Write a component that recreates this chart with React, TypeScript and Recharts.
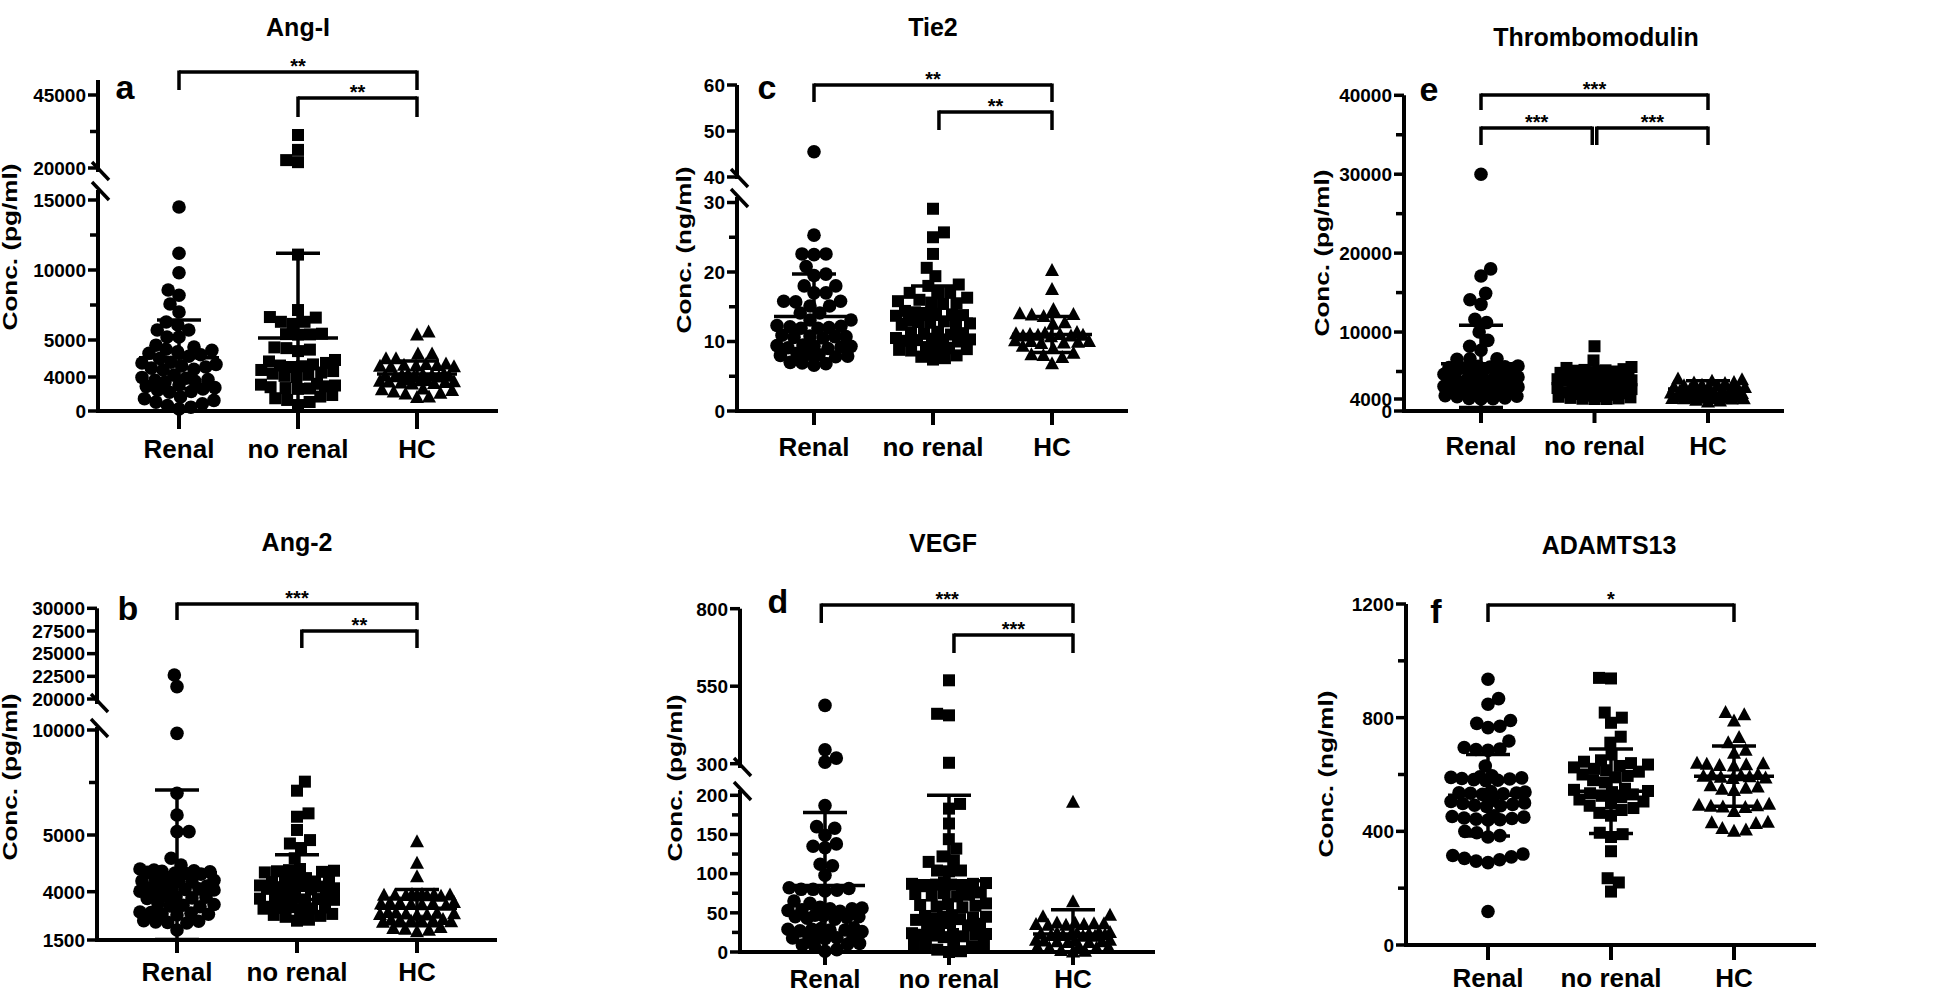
import React from 'react';
import { ScatterChart, Scatter, XAxis, YAxis, ReferenceLine } from 'recharts';

const GROUPS = ['Renal', 'no renal', 'HC'];

// ---------- a: Ang-I (pg/ml) ----------
const angIRenal = [14500, 11200, 9800, 8570, 8200, 7570, 7000, 6290, 6070, 5710, 5710, 5210, 5210, 4860, 4810,
  4750, 4720, 4680, 4640, 4600, 4560, 4500,
  4400, 4380, 4340, 4300, 4270, 4240, 4210, 4190,
  4050, 3950, 3850, 3700, 3600, 3500, 3400,
  3050, 2900, 2750, 2600, 2450, 2300, 2200,
  1650, 1450, 1250, 1050, 850, 650, 450, 250];
const angINoRenal = [31300, 26200, 22700, 22000, 11100, 7140,
  6640, 6600, 6300, 6300, 6150, 5450, 5420, 5400, 5380,
  4800, 4780, 4740, 4700, 4460, 4420, 4380, 4340, 4310, 4290, 4270,
  4190, 4160, 4120, 4090, 4060, 4030, 4000,
  3200, 3100, 3000, 2900, 2800, 2700, 2650, 2600,
  1880, 1700, 1500, 1300, 1060, 700];
const angIHC = [5570, 5350, 4620, 4620, 4490, 4490,
  4350, 4340, 4320, 4310, 4300, 4290, 4280, 4270,
  4080, 4070, 4060, 4050, 4040, 4030, 4020, 4010, 4005, 4000,
  3650, 3600, 3550, 3500, 3450, 3400, 3350, 3300, 3250, 3180,
  2600, 2500, 2400, 2250, 2100, 2000, 1650, 1600];
const angIMean = [4520, 5140, 4080];
const angISD = [1910, 6060, 350];
const angITicks = [0, 4000, 5000, 7500, 10000, 12500, 15000, 20000, 32500, 45000];
const angITickLabels = ['0', '4000', '5000', '', '10000', '', '15000', '20000', '', '45000'];
const angISig = ['**', '**'];

// ---------- c: Tie2 (ng/ml) ----------
const tie2Renal = [45.5, 25.3, 22.6, 22.6, 22.5, 20.8, 19.7, 19.5, 18.0, 18.0, 17.0, 17.0, 15.8, 15.8, 15.7, 15.1, 15.1,
  14.1, 14.1, 13.1, 13.1, 12.3, 12.2, 12.1, 12.0, 11.9, 11.9,
  10.9, 10.8, 10.7, 10.7, 10.6, 10.5, 9.5, 9.4, 9.3, 9.3, 9.2, 9.1, 9.0,
  8.3, 8.2, 8.1, 8.0, 7.9, 7.8, 7.0, 6.9, 6.8, 6.6];
const tie2NoRenal = [29.1, 25.7, 25.0, 22.6, 20.6, 19.4, 18.2, 18.0, 17.0, 17.0, 17.0,
  16.3, 16.0, 15.8, 15.6, 15.5, 15.4, 14.4, 14.2, 14.1, 14.0, 13.9, 13.8, 13.7,
  13.0, 12.9, 12.8, 12.7, 12.6, 12.5, 12.4, 11.4, 11.3, 11.2, 11.1, 11.0,
  10.5, 10.4, 10.3, 10.3, 10.2, 10.1, 10.0, 9.2, 9.1, 9.0, 8.9, 8.8, 8.7,
  8.0, 7.8, 7.6, 7.4];
const tie2HC = [20.2, 17.5, 14.6, 14.0, 13.9, 13.8, 13.6, 12.7, 12.5,
  11.3, 11.2, 11.1, 11.0, 11.0, 10.9, 10.9, 10.8, 10.8, 10.7,
  10.1, 10.0, 10.0, 9.9, 9.8, 9.7, 9.3, 9.0, 8.3, 8.1, 8.0, 7.7, 6.8];
const tie2Mean = [13.6, 13.2, 11.0];
const tie2SD = [6.1, 4.8, 2.6];
const tie2Ticks = [0, 5, 10, 15, 20, 25, 30, 40, 50, 60];
const tie2TickLabels = ['0', '', '10', '', '20', '', '30', '40', '50', '60'];
const tie2Sig = ['**', '**'];

// ---------- e: Thrombomodulin (pg/ml) ----------
const tmRenal = [30000, 18000, 17100, 14900, 14100, 13500, 11600, 11200, 10000, 8950, 8200, 7700, 6600, 6600, 6550,
  5700, 5650, 5600, 5550, 5500, 5450, 5200, 5150, 5100, 5050, 5000, 4900, 4850, 4800,
  4750, 4720, 4700, 4680, 4660, 4640, 4620, 4600,
  4480, 4460, 4440, 4420, 4400, 4380, 4360, 4340,
  4250, 4200, 4150, 4120, 4100, 4080, 4040, 4020, 4010, 4000];
const tmNoRenal = [8200, 6400, 5570, 5450, 5300,
  5200, 5150, 5100, 5050, 5000, 4980, 4950,
  4900, 4880, 4860, 4840, 4820, 4800, 4780, 4760,
  4740, 4720, 4700, 4680, 4660, 4640, 4620, 4600,
  4560, 4520, 4480, 4440, 4400, 4360, 4320, 4300,
  4270, 4240, 4210, 4180, 4150, 4120, 4100,
  4080, 4060, 4040, 4020, 4010, 4000, 4000];
const tmHC = [4730, 4700, 4650, 4600, 4580, 4560,
  4500, 4480, 4460, 4440, 4420, 4400, 4380, 4360, 4350, 4340,
  4300, 4280, 4260, 4240, 4220, 4200, 4180, 4160,
  4140, 4120, 4100, 4090, 4080, 4070, 4060, 4050,
  4040, 4030, 4020, 4015, 4010, 4005, 4000, 3600, 3300, 3000];
const tmMean = [5990, 4680, 4360];
const tmSD = [4860, 500, 300];
const tmTicks = [0, 4000, 5000, 10000, 15000, 20000, 25000, 30000, 35000, 40000];
const tmTickLabels = ['0', '4000', '', '10000', '', '20000', '', '30000', '', '40000'];
const tmSig = ['***', '***', '***'];

// ---------- b: Ang-2 (pg/ml) ----------
const ang2Renal = [22650, 21360, 9840, 6990, 5950, 5160, 5160, 4590, 4470, 4400,
  4380, 4370, 4360, 4350, 4340, 4330, 4320, 4310,
  4240, 4220, 4200, 4190, 4180, 4170,
  4100, 4080, 4070, 4060, 4050, 4040, 4030, 4010,
  3800, 3770, 3740, 3710, 3680, 3650,
  3380, 3340, 3300, 3260, 3220,
  2950, 2920, 2890, 2860, 2830, 2800,
  2500, 2470, 2440, 2410, 2380, 2020];
const ang2NoRenal = [7540, 7110, 6030, 5870, 5240, 4910, 4850, 4770, 4590,
  4400, 4380, 4370, 4360, 4350, 4340,
  4240, 4220, 4200, 4190, 4180, 4170,
  4110, 4100, 4090, 4080, 4070, 4060, 4050, 4040,
  3720, 3700, 3680, 3660, 3640, 3620, 3600, 3580,
  3220, 3200, 3180, 3160, 3140, 3120, 3100,
  2850, 2800, 2750, 2700, 2550, 2500];
const ang2HC = [4880, 4500, 4265,
  3860, 3850, 3840, 3830, 3820, 3810, 3800, 3790, 3780, 3770,
  3440, 3420, 3400, 3380, 3360, 3340, 3320, 3300,
  2920, 2900, 2880, 2860, 2840, 2820, 2800, 2780,
  2560, 2540, 2520, 2500, 2480, 2460, 2440, 2420,
  2150, 2100, 2050, 2000, 1930];
const ang2Mean = [4335, 4120, 3140];
const ang2SD = [2805, 530, 900];
const ang2Ticks = [1500, 4000, 5000, 7500, 10000, 20000, 22500, 25000, 27500, 30000];
const ang2TickLabels = ['1500', '4000', '5000', '', '10000', '20000', '22500', '25000', '27500', '30000'];
const ang2Sig = ['***', '**'];

// ---------- d: VEGF (pg/ml) ----------
const vegfRenal = [488, 345, 318, 305, 187, 160, 158, 149, 138, 135, 133, 112, 110, 98,
  82, 81, 80, 80, 79, 78, 65, 62,
  57, 56, 55, 55, 54, 53, 52, 47, 46, 45, 45, 44, 43, 42,
  31, 30, 29, 29, 28, 28, 27, 26, 20, 19, 19, 18, 18, 17,
  11, 10, 9, 8, 3, 1];
const vegfNoRenal = [569, 461, 456, 303, 189, 183, 164, 144, 132, 122, 117, 115, 104, 104, 103,
  89, 88, 87, 87, 86, 86, 85, 84, 76, 75, 74, 73, 72, 71,
  62, 61, 60, 59, 58, 57, 47, 46, 45, 45, 44, 43, 42, 41,
  37, 36, 35, 34, 33, 24, 23, 23, 22, 22, 21, 20, 19,
  11, 10, 9, 8, 7, 3, 1, 0];
const vegfHC = [191, 64, 47, 45,
  37, 37, 36, 36, 35, 35, 34, 34,
  25, 25, 24, 24, 23, 23, 22, 22, 21, 21, 20, 20,
  15, 15, 14, 14, 13, 13, 12, 12,
  7, 6, 6, 5, 5, 2, 1, 0];
const vegfMean = [85, 91, 23];
const vegfSD = [93, 109, 31];
const vegfTicks = [0, 25, 50, 75, 100, 125, 150, 175, 200, 300, 550, 800];
const vegfTickLabels = ['0', '', '50', '', '100', '', '150', '', '200', '300', '550', '800'];
const vegfSig = ['***', '***'];

// ---------- f: ADAMTS13 (ng/ml) ----------
const adamRenal = [935, 867, 847, 790, 780, 770, 765, 718, 695, 690, 688, 685, 630,
  595, 592, 590, 588, 586, 584, 582, 580, 578,
  540, 538, 536, 535, 534, 532, 530,
  510, 505, 500, 498, 495, 492, 490, 488,
  455, 452, 450, 447, 445, 443, 441, 440,
  400, 395, 385, 380, 320, 315, 310, 305, 300, 295, 290, 118];
const adamNoRenal = [940, 938, 818, 800, 782, 733, 712, 670,
  650, 645, 640, 635, 630, 625, 620, 615, 610, 600, 595, 590, 580, 572,
  550, 546, 542, 538, 534, 530, 525, 520, 512, 505, 498, 490, 482, 475, 465, 455,
  395, 390, 380, 330, 235, 220, 188];
const adamHC = [818, 810, 788, 730, 712, 685, 675,
  640, 638, 636, 634, 632, 630,
  600, 598, 596, 594, 592, 590, 588, 586,
  560, 556, 552, 548, 544,
  495, 492, 490, 488, 486, 484,
  470, 432, 430, 428, 410, 405, 400];
const adamMean = [527, 541, 594];
const adamSD = [143, 149, 106];
const adamTicks = [0, 200, 400, 600, 800, 1000, 1200];
const adamTickLabels = ['0', '', '400', '', '800', '', '1200'];
const adamSig = ['*'];

// ---------- layout ----------
const FONT = '"Liberation Sans", Arial, Helvetica, sans-serif';
const YW = 90;
const XH = 70;
const DOT = 12;
const HALF = 37;

type Bracket = { x1: number; x2: number; h: number; drop: number };
type Panel = {
  title: string; letter: string; unit: string;
  groups: number[][]; means: number[]; sds: number[];
  tickValues: number[]; tickLabels: string[]; sig: string[];
  axisX: number; baseline: number; top: number; S: number; padL: number; padR: number;
  map: [number, number][]; segs: [number, number][]; slashes: number[];
  brackets: Bracket[]; xTickLen: number; labelDy: number;
  titleXY: [number, number]; letterXY: [number, number]; ylabXY: [number, number];
};

const panels: Panel[] = [
  {
    title: 'Ang-I', letter: 'a', unit: 'Conc. (pg/ml)',
    groups: [angIRenal, angINoRenal, angIHC], means: angIMean, sds: angISD,
    tickValues: angITicks, tickLabels: angITickLabels, sig: angISig,
    axisX: 98, baseline: 411, top: 40, S: 119, padL: 81, padR: 81,
    map: [[0, 0], [4000, 34], [5000, 71], [15000, 211], [20000, 243], [45000, 316], [50000, 331]],
    segs: [[0, 221], [241, 331]], slashes: [221, 241],
    brackets: [{ x1: 1, x2: 3, h: 339, drop: 18 }, { x1: 2, x2: 3, h: 313, drop: 19 }],
    xTickLen: 18, labelDy: 37,
    titleXY: [298, 36], letterXY: [125, 99], ylabXY: [12, 247],
  },
  {
    title: 'Tie2', letter: 'c', unit: 'Conc. (ng/ml)',
    groups: [tie2Renal, tie2NoRenal, tie2HC], means: tie2Mean, sds: tie2SD,
    tickValues: tie2Ticks, tickLabels: tie2TickLabels, sig: tie2Sig,
    axisX: 737, baseline: 411, top: 40, S: 119, padL: 77, padR: 76,
    map: [[0, 0], [30, 208.5], [40, 234], [60, 326]],
    segs: [[0, 214], [234, 326]], slashes: [214, 234],
    brackets: [{ x1: 1, x2: 3, h: 326, drop: 17 }, { x1: 2.05, x2: 3, h: 299, drop: 18 }],
    xTickLen: 14, labelDy: 35,
    titleXY: [933, 36], letterXY: [767, 99], ylabXY: [686, 250],
  },
  {
    title: 'Thrombomodulin', letter: 'e', unit: 'Conc. (pg/ml)',
    groups: [tmRenal, tmNoRenal, tmHC], means: tmMean, sds: tmSD,
    tickValues: tmTicks, tickLabels: tmTickLabels, sig: tmSig,
    axisX: 1404, baseline: 411, top: 40, S: 113.5, padL: 77, padR: 76,
    map: [[0, 0], [4000, 12], [5000, 39.5], [40000, 315.7]],
    segs: [[0, 315.7]], slashes: [],
    brackets: [{ x1: 1, x2: 3, h: 316, drop: 15 }, { x1: 1, x2: 1.98, h: 283, drop: 17 }, { x1: 2.02, x2: 3, h: 283, drop: 17 }],
    xTickLen: 12, labelDy: 34,
    titleXY: [1596, 46], letterXY: [1429, 101], ylabXY: [1324, 253],
  },
  {
    title: 'Ang-2', letter: 'b', unit: 'Conc. (pg/ml)',
    groups: [ang2Renal, ang2NoRenal, ang2HC], means: ang2Mean, sds: ang2SD,
    tickValues: ang2Ticks, tickLabels: ang2TickLabels, sig: ang2Sig,
    axisX: 97, baseline: 940, top: 570, S: 120, padL: 80, padR: 80,
    map: [[1500, 0], [4000, 48.3], [5000, 105], [10000, 210], [20000, 241], [30000, 331.7]],
    segs: [[0, 213], [238, 331.7]], slashes: [213, 238],
    brackets: [{ x1: 1, x2: 3, h: 336, drop: 16 }, { x1: 2.04, x2: 3, h: 309, drop: 17 }],
    xTickLen: 13, labelDy: 31,
    titleXY: [297, 551], letterXY: [128, 620], ylabXY: [12, 777],
  },
  {
    title: 'VEGF', letter: 'd', unit: 'Conc. (pg/ml)',
    groups: [vegfRenal, vegfNoRenal, vegfHC], means: vegfMean, sds: vegfSD,
    tickValues: vegfTicks, tickLabels: vegfTickLabels, sig: vegfSig,
    axisX: 740, baseline: 952, top: 570, S: 124, padL: 85, padR: 82,
    map: [[0, 0], [200, 156.7], [300, 188.3], [800, 343.3]],
    segs: [[0, 162], [186, 343.3]], slashes: [162, 186],
    brackets: [{ x1: 0.97, x2: 3, h: 347, drop: 18 }, { x1: 2.04, x2: 3, h: 317, drop: 18 }],
    xTickLen: 13, labelDy: 26,
    titleXY: [943, 552], letterXY: [778, 613], ylabXY: [677, 778],
  },
  {
    title: 'ADAMTS13', letter: 'f', unit: 'Conc. (ng/ml)',
    groups: [adamRenal, adamNoRenal, adamHC], means: adamMean, sds: adamSD,
    tickValues: adamTicks, tickLabels: adamTickLabels, sig: adamSig,
    axisX: 1406, baseline: 945, top: 570, S: 123, padL: 82, padR: 82,
    map: [[0, 0], [1200, 341]],
    segs: [[0, 341]], slashes: [],
    brackets: [{ x1: 1, x2: 3, h: 340, drop: 17 }],
    xTickLen: 15, labelDy: 32,
    titleXY: [1609, 554], letterXY: [1436, 623], ylabXY: [1328, 774],
  },
];

function mapVal(map: [number, number][], v: number): number {
  if (v <= map[0][0]) return map[0][1];
  for (let i = 1; i < map.length; i++) {
    const [v0, h0] = map[i - 1];
    const [v1, h1] = map[i];
    if (v <= v1 || i === map.length - 1) return h0 + ((v - v0) / (v1 - v0)) * (h1 - h0);
  }
  return map[map.length - 1][1];
}

// beeswarm layout: pixel offsets, capped width; overlapping allowed once the row is full
function swarm(hs: number[], d: number, half: number): { h: number; dx: number }[] {
  const pts = hs.map((h) => ({ h, dx: 0 })).sort((a, b) => a.h - b.h);
  const placed: { h: number; dx: number }[] = [];
  let flip = 1;
  for (const p of pts) {
    const near = placed.filter((q) => Math.abs(p.h - q.h) < d);
    const iv: [number, number][] = near.map((q) => {
      const w = Math.sqrt(d * d - (p.h - q.h) * (p.h - q.h));
      return [q.dx - w, q.dx + w];
    });
    const cands = [0];
    iv.forEach(([a, b]) => { cands.push(a, b); });
    const ok = cands
      .filter((c) => Math.abs(c) <= half + 1e-6)
      .filter((c) => !iv.some(([a, b]) => c > a + 1e-6 && c < b - 1e-6))
      .sort((a, b) => Math.abs(a) - Math.abs(b) || (a - b) * flip);
    let best: number;
    if (ok.length) {
      best = ok[0];
    } else {
      best = 0;
      let bestScore = -1;
      for (let c = -half; c <= half + 1e-6; c += 1) {
        let m = Infinity;
        for (const q of near) m = Math.min(m, Math.hypot(c - q.dx, p.h - q.h));
        if (m > bestScore + 1e-6 || (Math.abs(m - bestScore) < 1e-6 && Math.abs(c) < Math.abs(best))) {
          bestScore = m;
          best = c;
        }
      }
    }
    flip = -flip;
    p.dx = best;
    placed.push(p);
  }
  return placed;
}

const shapes = [
  (p: any) => <circle cx={p.cx} cy={p.cy} r={6.8} fill="#000" />,
  (p: any) => <rect x={p.cx - 6} y={p.cy - 6} width={12} height={12} fill="#000" />,
  (p: any) => (
    <polygon points={`${p.cx},${p.cy - 7.5} ${p.cx - 7},${p.cy + 5.5} ${p.cx + 7},${p.cy + 5.5}`} fill="#000" />
  ),
];

const meanShape = (p: any) => {
  const { cx, cy, payload } = p;
  return (
    <g stroke="#000" strokeWidth={3.5}>
      <line x1={cx - 40} x2={cx + 40} y1={cy} y2={cy} />
      <line x1={cx} x2={cx} y1={cy - payload.up} y2={cy + payload.dn} />
      <line x1={cx - 22} x2={cx + 22} y1={cy - payload.up} y2={cy - payload.up} />
      <line x1={cx - 22} x2={cx + 22} y1={cy + payload.dn} y2={cy + payload.dn} />
    </g>
  );
};

const starShape = (p: any) => (
  <text x={p.cx} y={p.cy + 1} textAnchor="middle" fontFamily={FONT} fontWeight={700} fontSize={20} fill="#000">
    {p.payload.label}
  </text>
);

function PanelChart({ p }: { p: Panel }) {
  const H = p.baseline - p.top;
  const plotW = 2 * p.S + p.padL + p.padR;
  const x0 = 1 - p.padL / p.S;
  const x1 = 3 + p.padR / p.S;
  const toH = (v: number) => mapVal(p.map, v);
  const pts = p.groups.map((vals, gi) =>
    swarm(vals.map(toH), DOT, HALF).map((q) => ({ x: gi + 1 + q.dx / p.S, y: q.h })),
  );
  const minV = p.map[0][0];
  const meanData = p.means.map((m, gi) => {
    const hm = toH(m);
    return { x: gi + 1, y: hm, up: toH(m + p.sds[gi]) - hm, dn: hm - toH(Math.max(minV, m - p.sds[gi])) };
  });
  const starData = p.brackets.map((b, i) => ({ x: (b.x1 + b.x2) / 2, y: b.h, label: p.sig[i] }));
  const tickH = p.tickValues.map(toH);
  const line = { stroke: '#000', strokeWidth: 3.5, ifOverflow: 'visible' as const };

  const yTick = (t: any) => {
    const k = tickH.findIndex((h) => Math.abs(h - t.payload.value) < 1e-6);
    const lab = k >= 0 ? p.tickLabels[k] : '';
    const len = lab ? 10 : 8;
    return (
      <g>
        <line x1={t.x - len} x2={t.x} y1={t.y} y2={t.y} stroke="#000" strokeWidth={3.5} />
        {lab ? (
          <text x={t.x - len - 2} y={t.y} dy="0.36em" textAnchor="end" fontFamily={FONT} fontWeight={700} fontSize={19} fill="#000">
            {lab}
          </text>
        ) : null}
      </g>
    );
  };
  const xTick = (t: any) => (
    <text x={t.x} y={t.y - p.xTickLen + p.labelDy + 9.5} textAnchor="middle" fontFamily={FONT} fontWeight={700} fontSize={26} fill="#000">
      {GROUPS[Math.round(t.payload.value) - 1]}
    </text>
  );

  return (
    <div style={{ position: 'absolute', left: p.axisX - YW, top: p.top }}>
      <ScatterChart width={YW + plotW + 10} height={H + XH} margin={{ top: 0, right: 10, bottom: 0, left: 0 }}>
        <XAxis
          type="number" dataKey="x" domain={[x0, x1]} ticks={[1, 2, 3]} interval={0}
          axisLine={{ stroke: '#000', strokeWidth: 4 }} tickLine={{ stroke: '#000', strokeWidth: 4 }}
          tickSize={p.xTickLen} tickMargin={0} height={XH} tick={xTick}
        />
        <YAxis
          type="number" dataKey="y" domain={[0, H]} ticks={tickH} interval={0}
          axisLine={false} tickLine={false} tickSize={0} tickMargin={0} width={YW} tick={yTick}
        />
        {p.segs.map(([a, b], i) => (
          <ReferenceLine key={'seg' + i} segment={[{ x: x0, y: a - 2 }, { x: x0, y: b }]} {...line} strokeWidth={4} />
        ))}
        {p.slashes.map((h, i) => (
          <ReferenceLine key={'sl' + i} segment={[{ x: x0 - 6 / p.S, y: h + 8 }, { x: x0 + 11 / p.S, y: h - 10 }]} {...line} strokeWidth={3.5} />
        ))}
        {p.brackets.map((b, i) => [
          <ReferenceLine key={'bh' + i} segment={[{ x: b.x1, y: b.h }, { x: b.x2, y: b.h }]} {...line} />,
          <ReferenceLine key={'bl' + i} segment={[{ x: b.x1, y: b.h + 1.5 }, { x: b.x1, y: b.h - b.drop }]} {...line} />,
          <ReferenceLine key={'br' + i} segment={[{ x: b.x2, y: b.h + 1.5 }, { x: b.x2, y: b.h - b.drop }]} {...line} />,
        ])}
        {pts.map((d, gi) => (
          <Scatter key={'g' + gi} data={d} shape={shapes[gi]} isAnimationActive={false} />
        ))}
        <Scatter data={meanData} shape={meanShape} isAnimationActive={false} />
        <Scatter data={starData} shape={starShape} isAnimationActive={false} />
      </ScatterChart>
    </div>
  );
}

export default function App() {
  return (
    <div style={{ position: 'absolute', left: 0, top: 0, width: 1946, height: 1000, background: '#fff', overflow: 'hidden' }}>
      {panels.map((p, i) => (
        <PanelChart key={i} p={p} />
      ))}
      <svg width={1946} height={1000} style={{ position: 'absolute', left: 0, top: 0, pointerEvents: 'none' }}>
        {panels.map((p, i) => (
          <g key={i} fontFamily={FONT} fontWeight={700} fill="#000">
            <text x={p.titleXY[0]} y={p.titleXY[1]} textAnchor="middle" fontSize={25}>{p.title}</text>
            <text x={p.letterXY[0]} y={p.letterXY[1]} textAnchor="middle" fontSize={34}>{p.letter}</text>
            <text
              transform={`translate(${p.ylabXY[0] + 5},${p.ylabXY[1]}) rotate(-90)`}
              textAnchor="middle" fontSize={20} textLength={167} lengthAdjust="spacingAndGlyphs"
            >
              {p.unit}
            </text>
          </g>
        ))}
      </svg>
    </div>
  );
}
